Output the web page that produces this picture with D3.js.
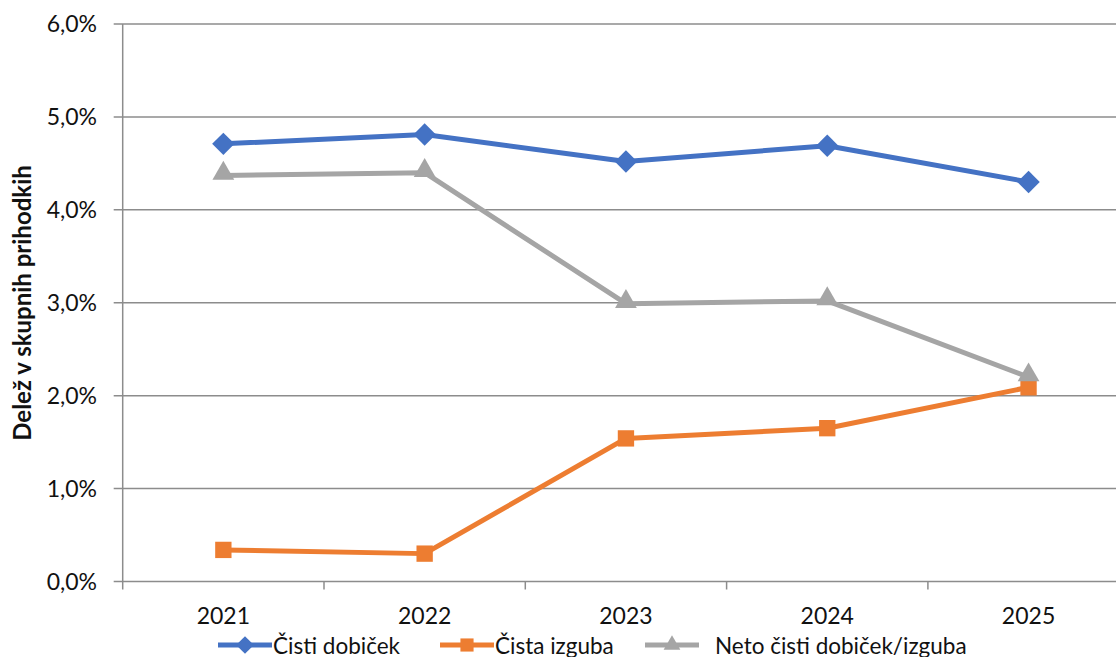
<!DOCTYPE html>
<html>
<head>
<meta charset="utf-8">
<script src="https://cdn.jsdelivr.net/npm/d3@7"></script>
<style>
  body { margin: 0; background: #fff; }
  svg { display: block; font-family: Lato, "Open Sans", sans-serif; }
</style>
</head>
<body>
<svg id="chart" width="1116" height="657"></svg>
<script>
const years = ["2021", "2022", "2023", "2024", "2025"];
const cistiDobicek = [4.71, 4.81, 4.52, 4.69, 4.30];
const cistaIzguba = [0.34, 0.30, 1.54, 1.65, 2.09];
const netoDobicek = [4.37, 4.40, 2.99, 3.02, 2.20];
const yTicks = [0, 1, 2, 3, 4, 5, 6];

const series = [
  { name: "Čisti dobiček", values: cistiDobicek, color: "#4472C4", marker: "diamond" },
  { name: "Čista izguba", values: cistaIzguba, color: "#ED7D31", marker: "square" },
  { name: "Neto čisti dobiček/izguba", values: netoDobicek, color: "#A5A5A5", marker: "triangle" }
];

const svg = d3.select("#chart");
const margin = { left: 122.7, top: 24, bottom: 581.5 };
const band = 201.3;

const x = d3.scaleBand()
  .domain(years)
  .range([margin.left, margin.left + band * years.length]);

const y = d3.scaleLinear()
  .domain([0, 6])
  .range([margin.bottom, margin.top]);

const grid = "#8c8c8c";
const fmt = v => d3.format(".1f")(v).replace(".", ",") + "%";

// horizontal gridlines
svg.append("g")
  .selectAll("line")
  .data(yTicks)
  .join("line")
  .attr("x1", margin.left - 9)
  .attr("x2", 1116)
  .attr("y1", d => y(d))
  .attr("y2", d => y(d))
  .attr("stroke", grid)
  .attr("stroke-width", 1.5);

// y axis line
svg.append("line")
  .attr("x1", margin.left).attr("x2", margin.left)
  .attr("y1", y(6)).attr("y2", y(0) + 8)
  .attr("stroke", grid).attr("stroke-width", 1.5);

// x ticks at category boundaries
svg.append("g")
  .selectAll("line")
  .data(years.slice(1))
  .join("line")
  .attr("x1", d => x(d)).attr("x2", d => x(d))
  .attr("y1", y(0)).attr("y2", y(0) + 8)
  .attr("stroke", grid).attr("stroke-width", 1.5);

// y tick labels
svg.append("g")
  .selectAll("text")
  .data(yTicks)
  .join("text")
  .attr("x", 97)
  .attr("y", d => y(d))
  .attr("dy", "0.36em")
  .attr("text-anchor", "end")
  .attr("font-size", 23)
  .attr("fill", "#111")
  .text(fmt);

// x labels
svg.append("g")
  .selectAll("text")
  .data(years)
  .join("text")
  .attr("x", d => x(d) + x.bandwidth() / 2)
  .attr("y", 624)
  .attr("text-anchor", "middle")
  .attr("font-size", 23)
  .attr("fill", "#111")
  .text(d => d);

// y title
svg.append("text")
  .attr("transform", "translate(31,303) rotate(-90)")
  .attr("text-anchor", "middle")
  .attr("font-size", 24)
  .attr("font-weight", "bold")
  .attr("fill", "#111")
  .text("Delež v skupnih prihodkih");

const symbolFor = m => m === "diamond"
  ? d3.symbol(d3.symbolDiamond2)
  : m === "square"
    ? d3.symbol(d3.symbolSquare2)
    : d3.symbol(d3.symbolTriangle2);

const line = d3.line()
  .x((d, i) => x(years[i]) + x.bandwidth() / 2)
  .y(d => y(d));

series.forEach(s => {
  const g = svg.append("g");
  g.append("path")
    .datum(s.values)
    .attr("fill", "none")
    .attr("stroke", s.color)
    .attr("stroke-width", 5)
    .attr("stroke-linejoin", "round")
    .attr("d", line);

  g.selectAll("path.m")
    .data(s.values)
    .join("path")
    .attr("class", "m")
    .attr("transform", (d, i) => `translate(${x(years[i]) + x.bandwidth() / 2},${y(d) + (s.marker === "triangle" ? -2 : 0)})`)
    .attr("d", symbolFor(s.marker).size(s.marker === "square" ? 340 : s.marker === "diamond" ? 320 : 340)())
    .attr("fill", s.color);
});

// legend
const legendX = [218, 440, 645];
const legend = svg.append("g");
series.forEach((s, i) => {
  const lg = legend.append("g").attr("transform", `translate(${legendX[i]},645)`);
  lg.append("line")
    .attr("x1", 0).attr("x2", 54)
    .attr("stroke", s.color).attr("stroke-width", 5);
  lg.append("path")
    .attr("transform", "translate(27,0)")
    .attr("d", symbolFor(s.marker).size(s.marker === "square" ? 220 : 200)())
    .attr("fill", s.color);
  lg.append("text")
    .attr("x", i === 2 ? 70 : 55)
    .attr("y", 0)
    .attr("dy", "0.4em")
    .attr("font-size", 22.5)
    .attr("fill", "#111")
    .text(s.name);
});
</script>
</body>
</html>
